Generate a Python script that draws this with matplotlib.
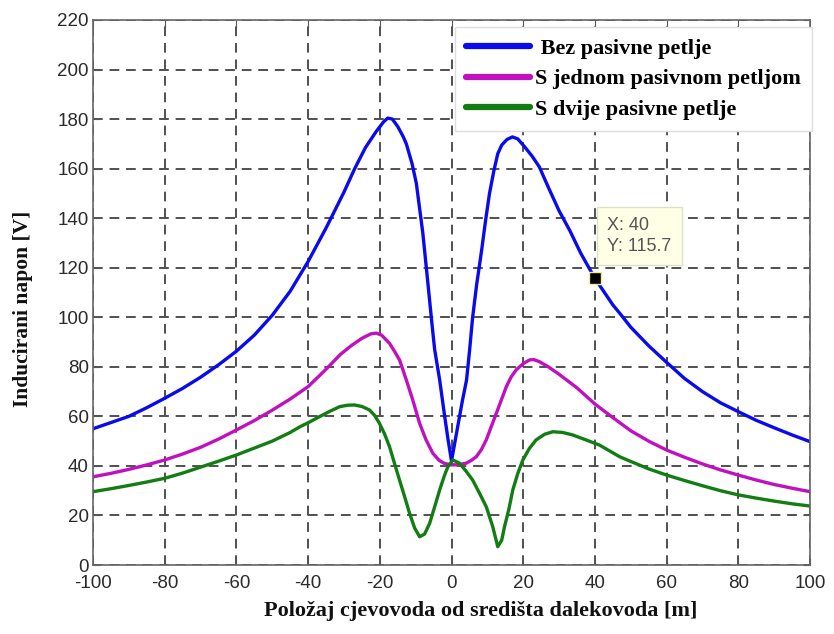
import matplotlib
matplotlib.use("Agg")
import matplotlib.pyplot as plt

plt.rcParams["axes.unicode_minus"] = False

# ---------------- data ----------------
blue_x = [-100, -95, -90, -85, -80, -75, -70, -65, -60, -55, -50, -45, -40, -35, -30, -27,
          -24, -21, -19, -17.8, -16.5, -15, -13.5, -12.6, -11, -9.8, -8, -6.6, -5.5, -4.7,
          -3.3, -2, -1, 0, 1, 2, 3, 4.2, 5, 5.9, 7, 8.4, 9.5, 10.6, 11.8, 12.9, 14, 15.5,
          17, 18.5, 20.4, 22.5, 24.5, 27, 30, 33, 36, 40, 42.2, 45, 47, 50, 55, 60, 65, 70,
          75, 80, 85, 90, 95, 100]
blue_y = [55, 57.5, 60, 63.5, 67.3, 71.3, 75.8, 80.8, 86.3, 92.8, 100.8, 110.5, 122.5, 136, 150.5, 160,
          168.5, 175, 178.8, 180.4, 180, 177, 173, 170, 162, 154, 134, 114, 98, 87,
          74.7, 61, 51, 42, 50, 58, 66, 74.7, 86, 100, 113, 127, 139, 150, 159, 166, 169.5, 171.8,
          172.8, 172, 168.8, 165, 160.7, 152.5, 143, 135, 126, 115.7, 111, 105, 101.5, 96, 88.5, 81.8, 75.3, 70,
          65.5, 61.9, 58.4, 55.4, 52.5, 49.8]

mag_x = [-100, -95, -90, -85, -80, -75, -70, -65, -60, -55, -50, -45, -40, -35, -31, -28,
         -25, -22.5, -21, -19.5, -17.3, -16, -14.5, -12.6, -10.8, -8.9, -7.1, -5.2, -3.5,
         -2, 0, 2, 4.1, 5.5, 6.9, 8.3, 9.7, 11, 12.5, 14, 15.3, 16.6, 18, 20, 21.8, 23,
         24.5, 27, 30, 35, 40, 45, 50, 55, 60, 65, 70, 75, 80, 85, 90, 95, 100]
mag_y = [35.6, 37, 38.6, 40.4, 42.4, 44.8, 47.5, 50.8, 54.5, 58.3, 62.5, 67, 72, 79, 85, 88.5,
         91.5, 93.3, 93.6, 92.8, 89.5, 86.5, 82.8, 74.7, 66.6, 57.2, 50.5, 45.1, 42.3,
         41, 40.4, 40.5, 41.1, 42.2, 43.7, 46.5, 50.5, 55.5, 61.2, 67, 72, 75.8, 78.7, 81.3, 82.8, 82.9,
         82.1, 80, 77, 71.5, 65, 59.5, 54.2, 50, 46.4, 43.5, 40.8, 38.4, 36.3, 34.3, 32.5, 31, 29.6]

grn_x = [-100, -95, -90, -85, -80, -75, -70, -65, -60, -55, -50, -45, -42.4, -39.5, -36.8,
         -34, -31.2, -29, -27.1, -25, -22.9, -21.5, -20.1, -18.7, -17.3, -16, -14.5, -13,
         -11.7, -10.3, -8.9, -7.5, -6.1, -4.7, -3.3, -2, -1, 0.4, 2.2, 4, 5.9, 7.8, 9.7,
         11.5, 12.9, 14, 14.8, 16, 17.1, 18.5, 19.9, 21.7, 23.6, 26, 28.3, 31, 33.8, 37.5,
         41.3, 46.9, 50, 55, 60, 65, 70, 75, 80, 85, 90, 95, 100]
grn_y = [29.6, 30.8, 32.1, 33.5, 35, 37.1, 39.5, 41.9, 44.4, 47.2, 50, 53.5, 55.7, 57.8, 59.9,
         62, 63.9, 64.5, 64.6, 64, 62.6, 60.5, 57.2, 53, 47.8, 41.5, 34.3, 27.2,
         20.9, 15, 11.4, 12.5, 16.8, 23.5, 30.3, 36, 39.7, 42.4, 41.1, 38, 34.3, 29, 23.5,
         15.5, 7.4, 10, 15.5, 22.5, 30.3, 37, 42.4, 47, 50.5, 52.8, 53.8, 53.5, 52.5, 50.5,
         48.4, 43.7, 41.8, 38.8, 36.3, 34.1, 32, 30, 28.3, 27, 25.8, 24.7, 23.8]

series_labels = [" Bez pasivne petlje", "S jednom pasivnom petljom", "S dvije pasivne petlje"]
x_ticks = list(range(-100, 101, 20))
y_ticks = list(range(0, 221, 20))
tip_x, tip_y = 40, 115.7

# ---------------- figure ----------------
fig = plt.figure(figsize=(8.34, 6.34), dpi=100)
ax = fig.add_axes([93/834, 69/634, 717/834, 545/634])

colors = ["#0a0aee", "#c010c0", "#127d12"]
for xs, ys, c, lab in zip([blue_x, mag_x, grn_x], [blue_y, mag_y, grn_y], colors, series_labels):
    ax.plot(xs, ys, color=c, lw=2.4, label=lab, solid_joinstyle="round", solid_capstyle="round")

ax.set_xlim(-100, 100)
ax.set_ylim(0, 220)
ax.set_xticks(x_ticks)
ax.set_yticks(y_ticks)
ax.set_xticklabels([str(v) for v in x_ticks])
ax.set_yticklabels([str(v) for v in y_ticks])
ax.grid(True, color="#505050", linestyle=(0, (5, 3.5)), linewidth=1.4)
ax.tick_params(direction="in", top=True, right=True, length=5, color="#555555",
               labelsize=13.5, labelcolor="#2a2a2a", pad=3)
ax.tick_params(axis="x", pad=7)
for lab in ax.get_xticklabels() + ax.get_yticklabels():
    lab.set_family("Liberation Sans")
for s in ax.spines.values():
    s.set_color("#666666")
    s.set_linewidth(1.2)

ax.set_xlabel("Položaj cjevovoda od središta dalekovoda [m]", family="Liberation Serif",
              weight="bold", fontsize=16, color="#111111")
ax.xaxis.set_label_coords(0.541, -0.066)
ax.set_ylabel("Inducirani napon [V]", family="Liberation Serif", weight="bold",
              fontsize=15.5, color="#111111")
ax.yaxis.set_label_coords(-0.084, 0.47)

leg = ax.legend(loc="upper right", bbox_to_anchor=(1.003, 0.987), borderaxespad=0,
                prop={"family": "Liberation Serif", "weight": "bold", "size": 16},
                handlelength=2.9, handletextpad=0.22, labelspacing=0.45,
                fancybox=False, framealpha=1, edgecolor="#dddddd", borderpad=0.5)
for h in leg.get_lines():
    h.set_linewidth(4.5)

# data tip
ax.plot([tip_x], [tip_y], marker="s", ms=8, color="black", mec="#eeee99", mew=1, zorder=5)
ax.annotate(f"X: {tip_x}\nY: {tip_y}", xy=(tip_x, tip_y), xytext=(9, 17),
            textcoords="offset points", ha="left", va="bottom", fontsize=13,
            family="Liberation Sans", color="#555555", linespacing=1.3,
            bbox=dict(boxstyle="square,pad=0.55", fc="#ffffe6", ec="#e0e0c8", lw=1), zorder=6)

fig.savefig("out.png", dpi=100)
